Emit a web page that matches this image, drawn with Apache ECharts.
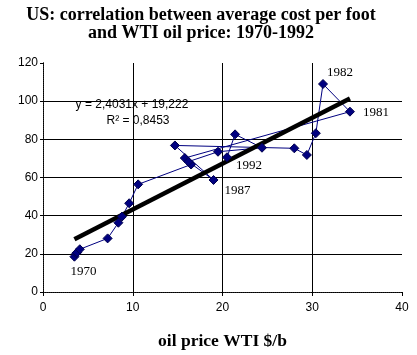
<!DOCTYPE html>
<html>
<head>
<meta charset="utf-8">
<script src="https://cdn.jsdelivr.net/npm/echarts@6/dist/echarts.min.js"></script>
<style>html,body{margin:0;padding:0;background:#fff;}#c{width:417px;height:355px;}</style>
</head>
<body>
<div id="c"></div>
<script>
// ---- data ----
const years = [1970,1971,1972,1973,1974,1975,1976,1977,1978,1979,1980,1981,1982,1983,1984,1985,1986,1987,1988,1989,1990,1991,1992];
const oilPrice = [3.5,3.7,3.8,4.1,7.2,8.4,8.8,9.6,10.6,16.5,15.8,34.2,31.2,30.4,29.4,28.0,14.7,19.0,16.2,19.5,24.4,21.4,20.5];
const costPerFoot = [18.5,20.3,20.7,22.4,28.1,36.3,39.5,46.5,56.4,66.8,70.2,94.5,109.0,83.2,71.8,75.3,76.8,58.7,68.3,73.5,75.6,82.6,70.6];
const labelledYears = [1970,1981,1982,1987,1992];
const trendSlope = 2.4031;
const trendIntercept = 19.222;
const xTicks = {min:0, max:40, interval:10};
const yTicks = {min:0, max:120, interval:20};
const titleLines = ['US: correlation between average cost per foot','and WTI oil price: 1970-1992'];
const xAxisTitle = 'oil price WTI $/b';
const equationText = 'y = 2,4031x + 19,222';
const r2Text = 'R\u00B2 = 0,8453';

// ---- styling / layout ----
const labelOffsets = {1970:[9,15],1981:[26,1],1982:[17,-11],1987:[24,11],1992:[22,8]};
const pts = years.map((y,i)=>[oilPrice[i], costPerFoot[i]]);
const xMinData = Math.min(...oilPrice), xMaxData = Math.max(...oilPrice);
const trend = [[xMinData, trendSlope*xMinData+trendIntercept],[xMaxData, trendSlope*xMaxData+trendIntercept]];

const scatterData = years.map((yr,i)=>{
  const item = {value: pts[i]};
  if (labelledYears.includes(yr)) {
    item.label = {show:true, formatter: String(yr), position:'inside', offset: labelOffsets[yr],
      color:'#000', fontFamily:'Liberation Serif', fontSize:13, align:'center', verticalAlign:'middle'};
  }
  return item;
});

const dotted = {show:true, lineStyle:{color:'#000', type:[1,1], width:1}};
const sans = 'Liberation Sans';
const chart = echarts.init(document.getElementById('c'), null, {renderer:'canvas'});
chart.setOption({
  animation:false,
  backgroundColor:'#fff',
  grid:{left:43, right:15, top:63, bottom:62},
  graphic:[
    {type:'text', style:{x:201, y:15, text:titleLines[0], font:'bold 18px "Liberation Serif"', fill:'#000', align:'center', verticalAlign:'middle'}},
    {type:'text', style:{x:201, y:33, text:titleLines[1], font:'bold 18px "Liberation Serif"', fill:'#000', align:'center', verticalAlign:'middle'}},
    {type:'text', style:{x:132, y:105, text:equationText, font:'12px "Liberation Sans"', fill:'#000', align:'center', verticalAlign:'middle'}, z:10},
    {type:'text', style:{x:138, y:121, text:r2Text, font:'12px "Liberation Sans"', fill:'#000', align:'center', verticalAlign:'middle'}, z:10}
  ],
  xAxis:[{
    type:'value', min:xTicks.min, max:xTicks.max, interval:xTicks.interval, position:'bottom',
    axisLine:dotted,
    axisTick:{show:true, length:4, lineStyle:{color:'#000'}},
    axisLabel:{color:'#000', fontFamily:sans, fontSize:12, margin:10},
    splitLine:{show:true, showMinLine:false, showMaxLine:false, lineStyle:{color:'#000', width:1}},
    name:xAxisTitle, nameLocation:'middle', nameGap:40,
    nameTextStyle:{color:'#000', fontFamily:'Liberation Serif', fontWeight:'bold', fontSize:17.5}
  },{
    type:'value', min:xTicks.min, max:xTicks.max, interval:xTicks.interval, position:'top',
    axisLine:dotted, axisTick:{show:false}, axisLabel:{show:false}, splitLine:{show:false}
  }],
  yAxis:[{
    type:'value', min:yTicks.min, max:yTicks.max, interval:yTicks.interval, position:'left',
    axisLine:dotted,
    axisTick:{show:true, length:3, lineStyle:{color:'#000'}},
    axisLabel:{color:'#000', fontFamily:sans, fontSize:12, margin:5},
    splitLine:{show:true, showMinLine:false, showMaxLine:false, lineStyle:{color:'#000', width:1}}
  },{
    type:'value', min:yTicks.min, max:yTicks.max, interval:yTicks.interval, position:'right',
    axisLine:dotted, axisTick:{show:false}, axisLabel:{show:false}, splitLine:{show:false}
  }],
  series:[
    {type:'line', data:pts, showSymbol:false, symbol:'none', lineStyle:{color:'#000080', width:1}, z:2, silent:true},
    {type:'line', data:trend, showSymbol:false, symbol:'none', lineStyle:{color:'#000', width:4.5}, z:3, silent:true},
    {type:'scatter', data:scatterData, symbol:'diamond', symbolSize:9,
      itemStyle:{color:'#000080', borderColor:'#00004d', borderWidth:1, opacity:1}, z:4}
  ]
});
</script>
</body>
</html>
